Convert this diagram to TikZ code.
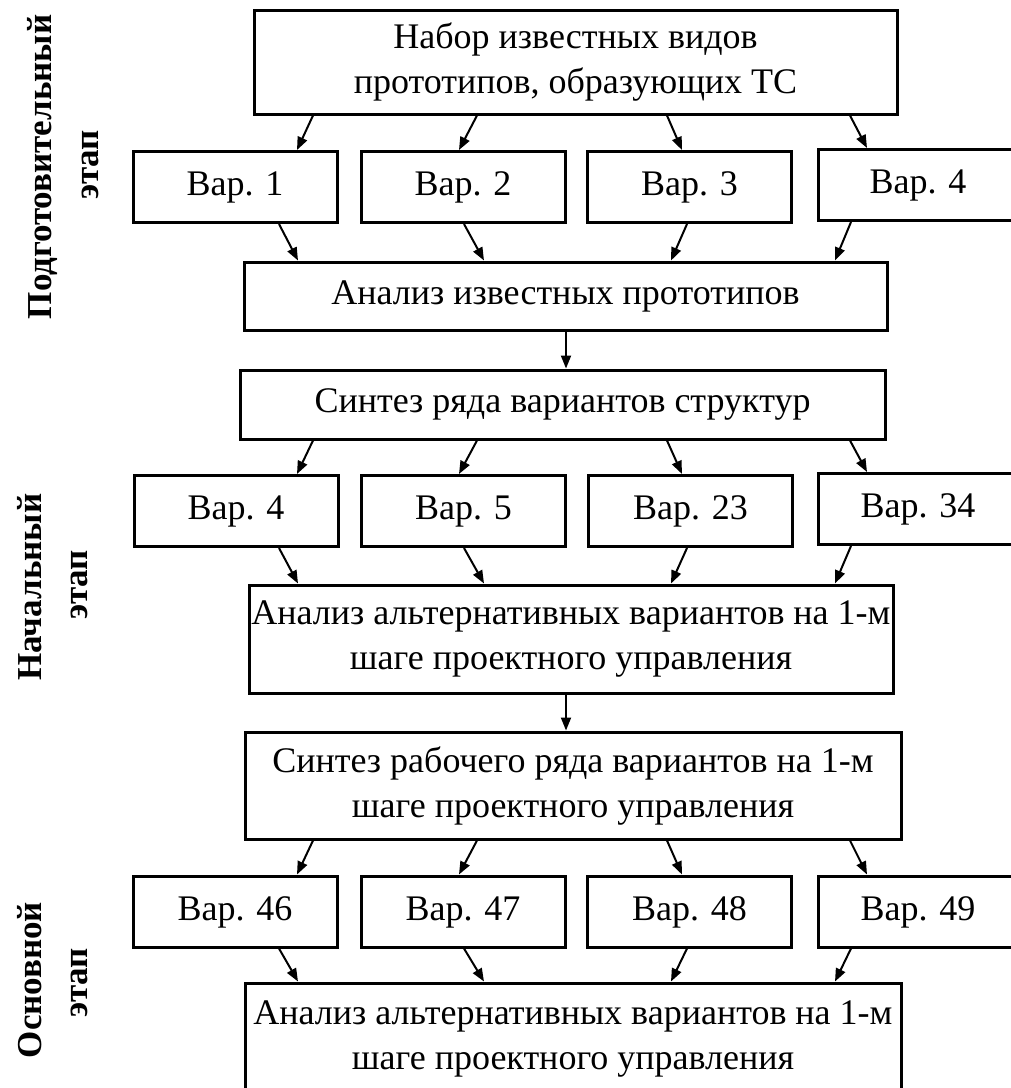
\documentclass[tikz,border=0pt]{standalone}
\usepackage{fontspec}
\setmainfont{Liberation Serif}
\usetikzlibrary{arrows.meta}
\begin{document}
\begin{tikzpicture}[x=1pt,y=-1pt,
  box/.style={draw, line width=3pt, fill=white, inner sep=0pt, align=center,
    font=\fontsize{36}{45}\selectfont},
  varbox/.style={box, minimum width=204pt, minimum height=71pt,
    text height=25pt, text depth=8pt},
  arr/.style={line width=2pt, -{Triangle[length=13pt,width=10pt]}},
  stage/.style={rotate=90, font=\bfseries\fontsize{35}{40}\selectfont},
  stagesub/.style={rotate=90, font=\bfseries\fontsize{35}{40}\selectfont}]
\clip (0,0) rectangle (1011,1088);
\fill[white] (0,0) rectangle (1011,1088);
% column coordinates for arrows
\coordinate (s1) at (313,0); \coordinate (s2) at (477,0);
\coordinate (s3) at (667,0); \coordinate (s4) at (850,0);
\coordinate (e1) at (297,0); \coordinate (e2) at (459,0);
\coordinate (e3) at (682,0); \coordinate (e4) at (867,0);
\coordinate (u1) at (279,0); \coordinate (u2) at (464,0);
\coordinate (u3) at (687,0); \coordinate (u4) at (851,0);
\coordinate (w1) at (298,0); \coordinate (w2) at (484,0);
\coordinate (w3) at (671,0); \coordinate (w4) at (835,0);
\coordinate (mid) at (566,0);
% stage labels
\node[stage] (L1) at (42,167) {Подготовительный};
\node[stagesub] (L1b) at (90,165) {этап};
\node[stage] (L2) at (30,587) {Начальный};
\node[stagesub] (L2b) at (79,585) {этап};
\node[stage] (L3) at (30,980) {Основной};
\node[stagesub] (L3b) at (79,983) {этап};
% row 1
\node[box, minimum width=643pt, minimum height=104pt] (top) at (575.5,62)
  {Набор известных видов\\прототипов, образующих ТС};
\node[varbox] (v1) at (235,187) {Вар. 1};
\node[varbox] (v2) at (463,187) {Вар. 2};
\node[varbox] (v3) at (689.5,187) {Вар. 3};
\node[varbox, minimum width=200pt] (v4) at (918,185) {Вар. 4};
\node[box, minimum width=643pt, minimum height=68pt] (a1) at (565.5,296)
  {Анализ известных прототипов};
% row 2
\node[box, minimum width=645pt, minimum height=69pt] (sy1) at (562.5,404.5)
  {Синтез ряда вариантов структур};
\node[varbox] (m1) at (236,511) {Вар. 4};
\node[varbox] (m2) at (463.5,511) {Вар. 5};
\node[varbox] (m3) at (690.5,511) {Вар. 23};
\node[varbox, minimum width=200pt] (m4) at (918,509) {Вар. 34};
\node[box, minimum width=644pt, minimum height=108pt] (a2) at (571,639)
  {Анализ альтернативных вариантов на 1-м\\шаге проектного управления};
% row 3
\node[box, minimum width=656pt, minimum height=107pt] (sy2) at (573,785.5)
  {Синтез рабочего ряда вариантов на 1-м\\шаге проектного управления};
\node[varbox] (n1) at (235,911.5) {Вар. 46};
\node[varbox] (n2) at (463,911.5) {Вар. 47};
\node[varbox] (n3) at (689.5,911.5) {Вар. 48};
\node[varbox, minimum width=200pt] (n4) at (918,911.5) {Вар. 49};
\node[box, minimum width=656pt, minimum height=112pt] (a3) at (573,1039)
  {Анализ альтернативных вариантов на 1-м\\шаге проектного управления};
% arrows
\foreach \src/\a/\b/\c/\d/\dst in {top/v1/v2/v3/v4/a1, sy1/m1/m2/m3/m4/a2, sy2/n1/n2/n3/n4/a3}{
  \draw[arr] (\src.south -| s1) -- (\a.north -| e1);
  \draw[arr] (\src.south -| s2) -- (\b.north -| e2);
  \draw[arr] (\src.south -| s3) -- (\c.north -| e3);
  \draw[arr] (\src.south -| s4) -- (\d.north -| e4);
  \draw[arr] (\a.south -| u1) -- (\dst.north -| w1);
  \draw[arr] (\b.south -| u2) -- (\dst.north -| w2);
  \draw[arr] (\c.south -| u3) -- (\dst.north -| w3);
  \draw[arr] (\d.south -| u4) -- (\dst.north -| w4);
}
\draw[arr] (a1.south -| mid) -- (sy1.north -| mid);
\draw[arr] (a2.south -| mid) -- (sy2.north -| mid);
\end{tikzpicture}
\end{document}
